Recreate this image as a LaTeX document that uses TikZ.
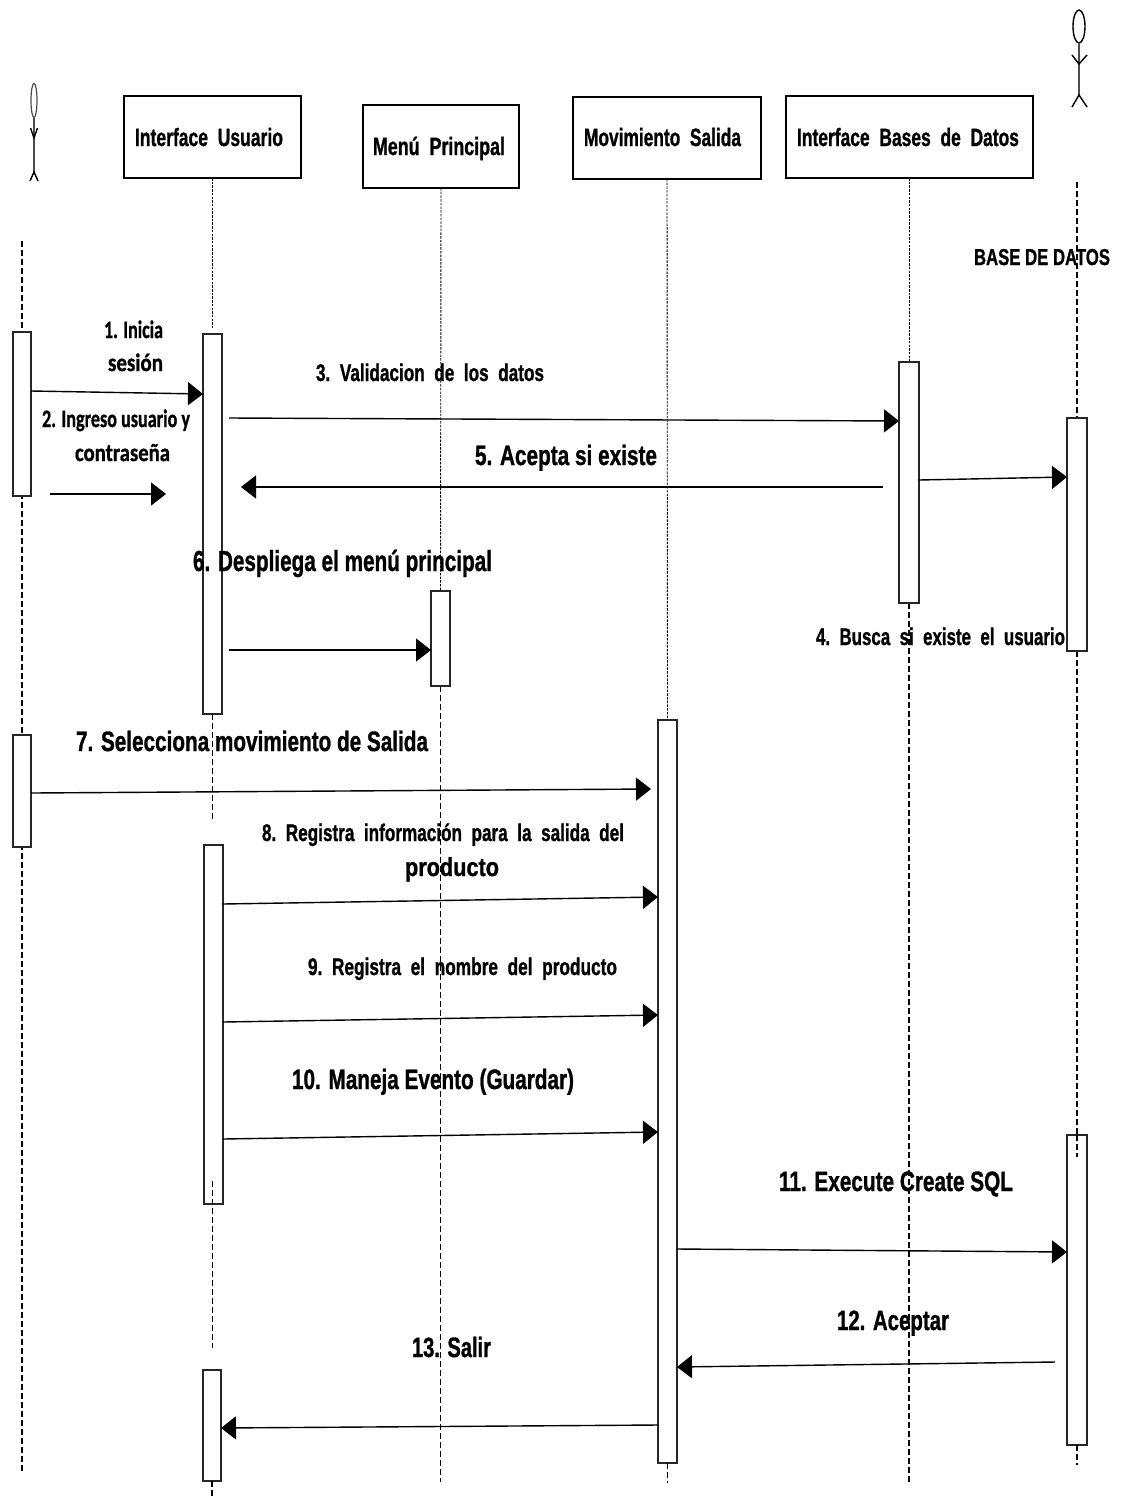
\documentclass[tikz,border=0pt]{standalone}
\usepackage{graphicx}
\usepackage{fontspec}
\setmainfont[BoldFeatures={FakeBold=1.2}]{Liberation Sans}
\newfontfamily\calfont[BoldFeatures={FakeBold=1}]{Carlito}
\usetikzlibrary{arrows.meta,shapes.geometric}
\pgfdeclarelayer{behind}
\pgfsetlayers{behind,main}
\newcommand\lbl[3]{\resizebox{#1pt}{\height}{\fontsize{#2}{#2}\selectfont\bfseries #3}}
\newcommand\lblc[3]{\resizebox{#1pt}{\height}{\fontsize{#2}{#2}\selectfont\calfont\bfseries #3}}
\tikzset{
  x=1pt,y=-1pt,
  objbox/.style={draw=black,line width=1.1pt,fill=white,inner sep=0pt,outer sep=0pt,anchor=north west},
  actbox/.style={draw=black!85,line width=1.1pt,fill=white,inner sep=0pt,outer sep=0pt,anchor=north west},
  lab/.style={inner sep=0pt,outer sep=0pt,anchor=base west},
  msg/.style={line width=1.4pt,-{Triangle[length=15pt,width=23pt]}},
  lifethin/.style={line width=0.9pt,dash pattern=on 2.5pt off 1.2pt},
  lifethick/.style={line width=1.5pt,dash pattern=on 6pt off 3pt},
  actorline/.style={line width=1.4pt,black!70},
}
\newcommand\actnode[5]{\node[actbox,minimum width=#4pt,minimum height=#5pt] (#1) at (#2,#3) {};}
\begin{document}
\begin{tikzpicture}
\useasboundingbox (0,0) rectangle (1121,1497);
\begin{pgfonlayer}{behind}
\fill[white] (0,0) rectangle (1121,1497);
\end{pgfonlayer}

% free ends of lifelines
\coordinate (lTop) at (22,241);
\coordinate (lBot) at (22,1473);
\coordinate (mBot) at (440.5,1482);
\coordinate (dBot) at (909,1482);
\coordinate (bTop) at (1077,182);
\coordinate (uA) at (212.5,820);
\coordinate (uB) at (212.5,1181);
\coordinate (uC) at (212.5,1348);
\coordinate (uD) at (212,1497);
\coordinate (sBot) at (667.5,1483);
\coordinate (bBot) at (1077,1465);
\coordinate (bTick) at (1077,1157);

% objects
\node[objbox,minimum width=177pt,minimum height=82pt] (iu) at (124,96) {};
\node[objbox,minimum width=156pt,minimum height=83pt] (mp) at (363,105) {};
\node[objbox,minimum width=188pt,minimum height=82pt] (ms) at (573,97) {};
\node[objbox,minimum width=247pt,minimum height=82pt] (ib) at (786,96) {};

% activations
\actnode{aA}{13}{332}{18}{164}
\actnode{aB}{13}{735}{18}{112}
\actnode{uU}{203}{334}{19}{380}
\actnode{uV}{204}{845}{19}{359}
\actnode{uW}{203}{1370}{18}{111}
\actnode{mA}{431}{591}{19}{95}
\actnode{sA}{658}{720}{19}{743}
\actnode{dA}{899}{362}{20}{241}
\actnode{bA}{1067}{418}{20}{233}
\actnode{bB}{1067}{1135}{20}{310}

% lifelines behind the activations
\begin{pgfonlayer}{behind}
\draw[lifethick] (lTop) -- (lBot);
\draw[lifethin,shorten >=6pt] (iu.south) -- (uU.north);
\draw[lifethick] (uU.south) -- (uA);
\draw[lifethin] (mp.south) -- (mA.north);
\draw[lifethick] (mA.south) -- (mBot);
\draw[lifethin] (ms.south) -- (sA.north);
\draw[lifethin] (ib.south -| dA.north) -- (dA.north);
\draw[lifethick] (dA.south) -- (dBot);
\draw[lifethick] (bTop) -- (bA.north);
\draw[lifethick] (bA.south) -- (bB.north);
\end{pgfonlayer}

% lifeline pieces lying over activations
\draw[lifethick] (uB) -- (uC);
\draw[lifethick] (uW.south -| uD) -- (uD);
\draw[lifethick] (sA.south) -- (sBot);
\draw[lifethick] (bB.south) -- (bBot);
\draw[lifethick] (bB.north) -- (bTick);

% actors
\node[draw=black!70,line width=1.2pt,ellipse,inner sep=0pt,minimum width=6pt,minimum height=34pt] (actA) at (34,100.5) {};
\coordinate (actAhip) at (34,172);
\coordinate (actAarm) at (34,138);
\draw[actorline] (actA.south) -- (actAhip);
\draw[actorline,black] (30.5,128) -- (actAarm) -- (37.5,128);
\draw[actorline,black] (30,181) -- (actAhip) -- (38,181);
\node[draw=black,line width=1.4pt,ellipse,inner sep=0pt,minimum width=12pt,minimum height=33pt] (actB) at (1079,26.5) {};
\coordinate (actBhip) at (1079,95);
\coordinate (actBarm) at (1079,64);
\draw[actorline] (actB.south) -- (actBhip);
\draw[actorline,black] (1072,55) -- (actBarm) -- (1087,55);
\draw[actorline,black] (1072,107) -- (actBhip) -- (1087,107);

% labels
\node[lab] (t1) at (135,146) {\lbl{148}{25}{Interface\ \ Usuario}};
\node[lab] (t2) at (373,155) {\lbl{132}{25}{Menú\ \ Principal}};
\node[lab] (t3) at (584,146) {\lbl{157}{25}{Movimiento\ \ Salida}};
\node[lab] (t4) at (797,146) {\lbl{222}{25}{Interface\ \ Bases\ \ de\ \ Datos}};
\node[lab] (t5) at (974,265) {\lbl{136}{23}{BASE DE DATOS}};
\node[lab] (m1a) at (104,338) {\lblc{59}{25}{1. Inicia}};
\node[lab] (m1b) at (108,371) {\lblc{55}{25}{sesión}};
\node[lab] (m2a) at (42,427) {\lblc{148}{25}{2. Ingreso usuario y}};
\node[lab] (m2b) at (75,461) {\lblc{95}{25}{contraseña}};
\node[lab] (m3) at (316,381) {\lbl{228}{24}{3.\ \ Validacion\ \ de\ \ los\ \ datos}};
\node[lab] (m5) at (475,465) {\lbl{182}{28}{5. Acepta si existe}};
\node[lab] (m6) at (193,571) {\lbl{299}{29}{6. Despliega el menú principal}};
\node[lab] (m4) at (816,645) {\lbl{249}{24}{4.\ \ Busca\ \ si\ \ existe\ \ el\ \ usuario}};
\node[lab] (m7) at (76,751) {\lbl{352}{28}{7. Selecciona movimiento de Salida}};
\node[lab] (m8a) at (262,841) {\lbl{362}{24}{8.\ \ Registra\ \ información\ \ para\ \ la\ \ salida\ \ del}};
\node[lab] (m8b) at (405,876) {\lbl{94}{26}{producto}};
\node[lab] (m9) at (308,975) {\lbl{309}{24}{9.\ \ Registra\ \ el\ \ nombre\ \ del\ \ producto}};
\node[lab] (m10) at (292,1089) {\lbl{282}{28}{10. Maneja Evento (Guardar)}};
\node[lab] (m11) at (779,1191) {\lbl{234}{28}{11. Execute Create SQL}};
\node[lab] (m12) at (837,1330) {\lbl{112}{28}{12. Aceptar}};
\node[lab] (m13) at (412,1357) {\lbl{79}{28}{13. Salir}};

% free arrow ends
\coordinate (f2a) at (50,494);
\coordinate (f2b) at (166,494);
\coordinate (f5a) at (883,487);
\coordinate (f5b) at (241,487);
\coordinate (f12a) at (1055,1362);
\coordinate (f7b) at (651,789);

% messages
\draw[msg] (aA.east |- 0,391) -- (uU.west |- 0,394);
\draw[msg] (f2a) -- (f2b);
\draw[msg] ([xshift=7pt]uU.east |- 0,418) -- (dA.west |- 0,421);
\draw[msg] (f5a) -- (f5b);
\draw[msg] (dA.east |- 0,480) -- (bA.west |- 0,477);
\draw[msg] ([xshift=7pt]uU.east |- 0,650) -- (mA.west |- 0,650);
\draw[msg] (aB.east |- 0,793) -- (f7b);
\draw[msg] (uV.east |- 0,904) -- (sA.west |- 0,897);
\draw[msg] (uV.east |- 0,1022) -- (sA.west |- 0,1015);
\draw[msg] (uV.east |- 0,1139) -- (sA.west |- 0,1132);
\draw[msg] (sA.east |- 0,1249) -- (bB.west |- 0,1252);
\draw[msg] (f12a) -- (sA.east |- 0,1367);
\draw[msg] (sA.west |- 0,1425) -- (uW.east |- 0,1428);
\end{tikzpicture}
\end{document}
